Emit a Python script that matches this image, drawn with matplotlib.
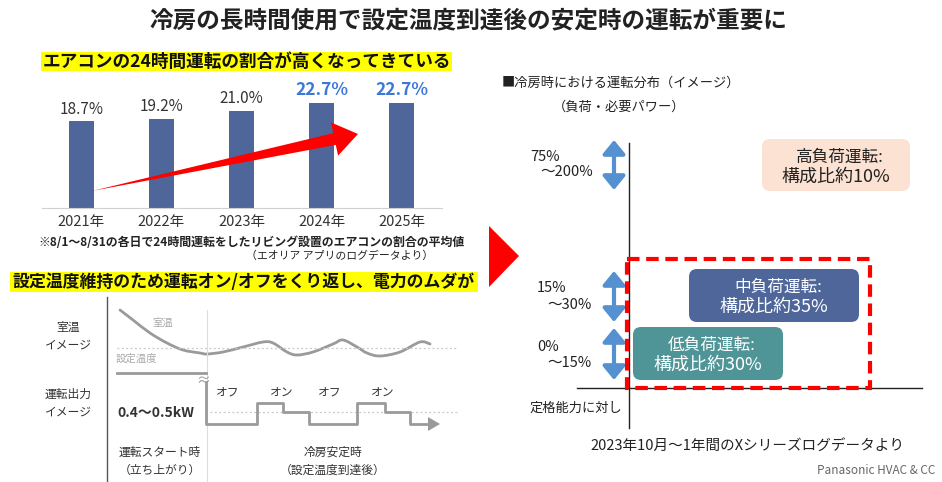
import matplotlib
matplotlib.use('Agg')
import matplotlib.pyplot as plt
from matplotlib.patches import Polygon, Rectangle, FancyBboxPatch, PathPatch
from matplotlib.path import Path
import numpy as np

plt.rcParams['font.family'] = ['Noto Sans CJK JP', 'DejaVu Sans']

# ---- data ----
years = ['2021年', '2022年', '2023年', '2024年', '2025年']
share = [18.7, 19.2, 21.0, 22.7, 22.7]
highlight = [False, False, False, True, True]

# room temperature curve (pixel coords)
temp_x = [120, 133, 150, 167, 183, 200, 207, 223, 243, 263, 273, 287, 297, 313,
          333, 343, 357, 367, 380, 400, 420, 430]
temp_y = [310, 320, 333, 343, 350, 353, 354, 352, 347, 342, 343, 352, 355, 352,
          344, 340, 347, 353, 356, 352, 342, 344]

# on/off output line after set temperature reached
out_x = [206, 206, 257, 257, 283, 283, 309, 309, 357, 357, 385, 385, 410, 410, 430]
out_y = [382, 424, 424, 403, 403, 412, 412, 424, 424, 403, 403, 412, 412, 424, 424]
onoff_labels = ['オフ', 'オン', 'オフ', 'オン']
onoff_x = [228, 282, 330, 383]

load_ranges = [('75%', '～200%'), ('15%', '～30%'), ('0%', '～15%')]
load_boxes = [
    ('高負荷運転:', '構成比約10%', '#FBE2D3', '#222222'),
    ('中負荷運転:', '構成比約35%', '#4E6699', 'white'),
    ('低負荷運転:', '構成比約30%', '#4F9598', 'white'),
]

BAR_COLOR = '#4E6699'
GRAY = '#9A9A9A'


def smooth_path(xs, ys):
    # Catmull-Rom through the read points, as cubic bezier segments
    p = np.column_stack([xs, ys]).astype(float)
    p = np.vstack([p[0], p, p[-1]])
    verts = [p[1]]
    codes = [Path.MOVETO]
    for i in range(1, len(p) - 2):
        c1 = p[i] + (p[i + 1] - p[i - 1]) / 6
        c2 = p[i + 1] - (p[i + 2] - p[i]) / 6
        verts += [c1, c2, p[i + 1]]
        codes += [Path.CURVE4] * 3
    return Path(verts, codes)


fig = plt.figure(figsize=(9.42, 4.82), dpi=100)

# ---- bar chart ----
axb = fig.add_axes([42 / 942, (482 - 208) / 482, 400 / 942, 118 / 482])
x = np.arange(len(years))
axb.bar(x, share, width=0.31, color=BAR_COLOR)
for i, v in enumerate(share):
    if highlight[i]:
        axb.text(i, v + 0.8, f'{v:.1f}%', ha='center', va='bottom', fontsize=12.5,
                 fontweight='bold', color='#3D78D8')
    else:
        axb.text(i, v + 0.8, f'{v:.1f}%', ha='center', va='bottom', fontsize=11,
                 color='#333333')
axb.set_xlim(-0.49, 4.5)
axb.set_ylim(0, 25.5)
axb.set_xticks(x)
axb.set_xticklabels(years, fontsize=10.5, color='#333333')
axb.tick_params(axis='x', length=0, pad=5)
axb.set_yticks([])
for s in ['top', 'left', 'right']:
    axb.spines[s].set_visible(False)
axb.spines['bottom'].set_color('#D0D0D0')
axb.patch.set_alpha(0)

# ---- overlay in pixel coords ----
ax = fig.add_axes([0, 0, 1, 1], zorder=5)
ax.set_xlim(0, 942)
ax.set_ylim(482, 0)
ax.axis('off')
ax.patch.set_alpha(0)

ax.text(468, 20, '冷房の長時間使用で設定温度到達後の安定時の運転が重要に', ha='center',
        va='center', fontsize=17, fontweight='bold', color='#222222')

# subtitle 1
ax.add_patch(Rectangle((41, 52), 411, 19, color='#FFFF00', lw=0))
ax.text(246.5, 61.5, 'エアコンの24時間運転の割合が高くなってきている', ha='center', va='center',
        fontsize=12.7, fontweight='bold', color='#111111')

# red trend arrow
tail = np.array([92.0, 191.0])
tip = np.array([358.0, 134.0])
u = (tip - tail) / np.linalg.norm(tip - tail)
n = np.array([-u[1], u[0]])
base = tip - 24 * u
arrow_pts = [tail, base + 6 * n, base + 17 * n, tip, base - 17 * n, base - 6 * n]
ax.add_patch(Polygon(arrow_pts, closed=True, color='#FF0000', lw=0))

ax.text(38, 243, '※8/1～8/31の各日で24時間運転をしたリビング設置のエアコンの割合の平均値',
        ha='left', va='center', fontsize=8.6, fontweight='bold', color='#222222')
ax.text(433, 256, '（エオリア アプリのログデータより）', ha='right', va='center',
        fontsize=7.8, color='#222222')

# subtitle 2
ax.add_patch(Rectangle((10, 272), 468, 20, color='#FFFF00', lw=0))
ax.text(244, 282, '設定温度維持のため運転オン/オフをくり返し、電力のムダが', ha='center',
        va='center', fontsize=12.2, fontweight='bold', color='#111111')

# schematic
ax.plot([107, 107], [297, 481], color='#555555', lw=1)
ax.plot([207, 207], [310, 481], color='#DDDDDD', lw=0.8)
ax.plot([117, 458], [348, 348], color='#C8C8C8', lw=0.9, ls=(0, (1.5, 2)))
ax.plot([210, 458], [412, 412], color='#C8C8C8', lw=0.9, ls=(0, (1.5, 2)))
ax.add_patch(PathPatch(smooth_path(temp_x, temp_y), fc='none', ec=GRAY, lw=2.0,
                       capstyle='round'))
ax.plot([117, 206], [373, 373], color=GRAY, lw=2.0)
ax.text(203, 381, '≈', ha='center', va='center', fontsize=10, color=GRAY)
ax.plot(out_x, out_y, color=GRAY, lw=2.0)
ax.add_patch(Polygon([[428, 417], [428, 431], [440, 424]], closed=True, color=GRAY, lw=0))
for lab, xx in zip(onoff_labels, onoff_x):
    ax.text(xx, 392, lab, ha='center', va='center', fontsize=8.5, color='#333333')
ax.text(163, 323, '室温', ha='center', va='center', fontsize=7.5, color='#AAAAAA')
ax.text(116, 359, '設定温度', ha='left', va='center', fontsize=7.5, color='#AAAAAA')
ax.text(68, 327, '室温', ha='center', va='center', fontsize=8.5, color='#333333')
ax.text(68, 345, 'イメージ', ha='center', va='center', fontsize=8.5, color='#333333')
ax.text(68, 394, '運転出力', ha='center', va='center', fontsize=8.5, color='#333333')
ax.text(68, 412, 'イメージ', ha='center', va='center', fontsize=8.5, color='#333333')
ax.text(117, 413, '0.4～0.5kW', ha='left', va='center', fontsize=10, fontweight='bold',
        color='#333333')
ax.text(160, 452, '運転スタート時', ha='center', va='center', fontsize=8.5, color='#333333')
ax.text(160, 470, '（立ち上がり）', ha='center', va='center', fontsize=8.5, color='#333333')
ax.text(333, 452, '冷房安定時', ha='center', va='center', fontsize=8.5, color='#333333')
ax.text(333, 470, '（設定温度到達後）', ha='center', va='center', fontsize=8.5, color='#333333')

# big red triangle
ax.add_patch(Polygon([[489, 226], [489, 287], [519, 256]], closed=True, color='#FF0000', lw=0))

# ---- right panel ----
ax.text(502, 83, '■冷房時における運転分布（イメージ）', ha='left', va='center',
        fontsize=9.5, color='#222222')
ax.text(553, 107, '（負荷・必要パワー）', ha='left', va='center', fontsize=9.5, color='#222222')
ax.plot([629, 629], [143, 428], color='#222222', lw=1)
ax.plot([577, 922], [388, 388], color='#222222', lw=1)

arrow_spans = [(140, 190), (271, 322), (328, 380)]
label_rows = [(157, 172), (288, 305), (347, 363)]
label_x = [(530, 540), (537, 547), (537, 547)]
for (y0, y1), (l1, l2), (ly1, ly2), (lx1, lx2) in zip(arrow_spans, load_ranges, label_rows, label_x):
    ax.annotate('', xy=(614, y0), xytext=(614, y1),
                arrowprops=dict(arrowstyle='<|-|>,head_width=0.45,head_length=0.55',
                                lw=3, color='#5591D0', mutation_scale=15,
                                shrinkA=0, shrinkB=0))
    ax.text(lx1, ly1, l1, ha='left', va='center', fontsize=10.5, color='#222222')
    ax.text(lx2, ly2, l2, ha='left', va='center', fontsize=10.5, color='#222222')
ax.text(530, 408, '定格能力に対し', ha='left', va='center', fontsize=9.5, color='#222222')

box_pos = [(762, 139, 148, 52), (689, 269, 170, 53), (633, 327, 150, 53)]
for (t1, t2, fc, tc), (bx, by, bw, bh) in zip(load_boxes, box_pos):
    ax.add_patch(FancyBboxPatch((bx, by), bw, bh, boxstyle='round,pad=0,rounding_size=8',
                                fc=fc, ec='none'))
    ax.text(bx + bw / 2 + 4, by + 18, t1, ha='center', va='center', fontsize=12, color=tc)
    ax.text(bx + bw / 2, by + 38, t2, ha='center', va='center', fontsize=13, color=tc)

ax.add_patch(Rectangle((627, 259), 243, 129, fill=False, ec='#FF0000', lw=3,
                       ls=(0, (3, 1.6)), zorder=6))

ax.text(590, 447, '2023年10月～1年間のXシリーズログデータより', ha='left', va='center',
        fontsize=10.5, color='#222222')
ax.text(817, 470, 'Panasonic HVAC & CC', ha='left', va='center', fontsize=8.5,
        color='#666666')

fig.savefig('out.png', dpi=100)
